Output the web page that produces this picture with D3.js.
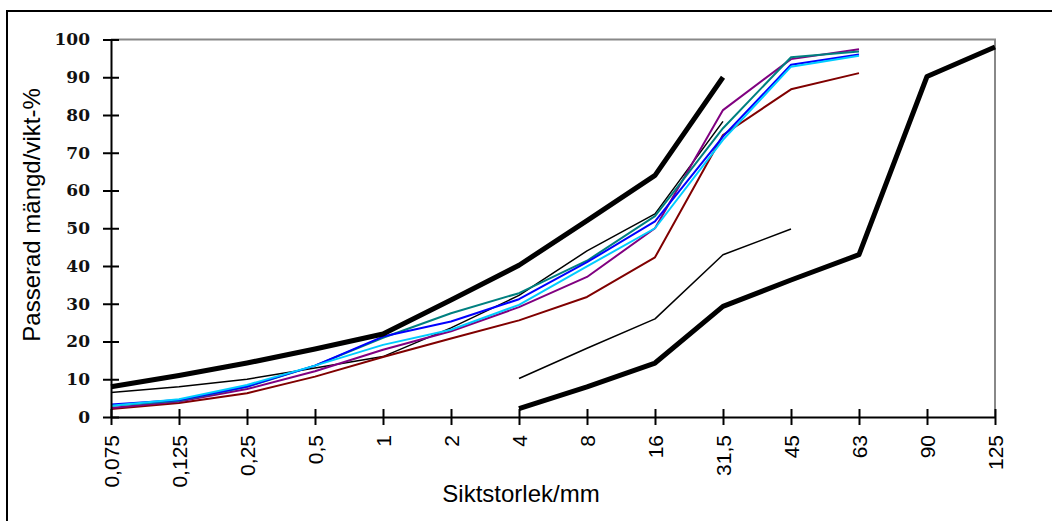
<!DOCTYPE html>
<html>
<head>
<meta charset="utf-8">
<script src="https://cdn.jsdelivr.net/npm/d3@7/dist/d3.min.js"></script>
<style>
  body { margin: 0; background: #fff; }
  svg { display: block; }
</style>
</head>
<body>
<div id="container"></div>
<script>
// sieve sizes (category axis, evenly spaced)
var sieves = ["0,075", "0,125", "0,25", "0,5", "1", "2", "4", "8", "16", "31,5", "45", "63", "90", "125"];
var yTicks = [0, 10, 20, 30, 40, 50, 60, 70, 80, 90, 100];

// grading limit curves (thick)
var upperLimit = [8, 11, 14.3, 18, 22, 31, 40.2, 52, 64, 90, null, null, null, null];
var lowerLimit = [null, null, null, null, null, null, 2.2, 8, 14.3, 29.3, 36.3, 43, 90.2, 98];
// thin black curves
var thinUpper = [6.5, 8, 10, 13, 16, 23.6, 32.2, 44, 53.8, 78.3, null, null, null, null];
var thinLower = [null, null, null, null, null, null, 10.2, 18.2, 26, 43, 49.8, null, null, null];
// sample curves
var redVals = [2.1, 3.7, 6.3, 10.7, 15.9, 20.8, 25.6, 31.8, 42.3, 74.7, 86.8, 91.1, null, null];
var purpleVals = [2.4, 4.1, 7.4, 12.1, 17.8, 22.7, 29.1, 37.1, 50, 81.3, 94.8, 97.4, null, null];
var tealVals = [3, 4.3, 8, 13.6, 21, 27.5, 32.8, 41.4, 53.2, 76.5, 95.3, 96.8, null, null];
var blueVals = [3.3, 4.5, 8.1, 13.6, 21.3, 25.3, 31.2, 41, 51.8, 74.3, 93.3, 96, null, null];
var cyanVals = [3, 4.7, 8.5, 13.6, 19.1, 23.1, 29.7, 39.9, 50, 73.4, 92.8, 95.7, null, null];

var series = [
    { values: thinUpper, color: "#000", width: 1.5 },
    { values: thinLower, color: "#000", width: 1.5 },
    { values: redVals, color: "#800000", width: 2 },
    { values: purpleVals, color: "#800080", width: 2 },
    { values: tealVals, color: "#008080", width: 2 },
    { values: blueVals, color: "#0000ff", width: 2 },
    { values: cyanVals, color: "#00ccff", width: 2 },
    { values: upperLimit, color: "#000", width: 5 },
    { values: lowerLimit, color: "#000", width: 5 }
];

var W = 1052, H = 521;
var plotLeft = 111, plotRight = 995, plotTop = 39.5, plotBottom = 417;

var svg = d3.select("#container").append("svg")
    .attr("width", W)
    .attr("height", H)

// outer chart border
svg.append("rect")
    .attr("x", 7).attr("y", 11)
    .attr("width", W + 20).attr("height", H + 20)
    .attr("fill", "none")
    .attr("stroke", "#000")
    .attr("stroke-width", 2)

var x = d3.scalePoint().domain(sieves).range([plotLeft, plotRight]);
var y = d3.scaleLinear().domain([0, 100]).range([plotBottom, plotTop]);

// plot area frame (grey top and right)
svg.append("path")
    .attr("d", "M" + plotLeft + "," + plotTop + "H" + plotRight + "V" + plotBottom)
    .attr("fill", "none")
    .attr("stroke", "#888")
    .attr("stroke-width", 2)

var line = d3.line()
    .defined(function(d) { return d != null })
    .x(function(d, i) { return x(sieves[i]) })
    .y(function(d) { return y(d) })

svg.selectAll("path.curve")
    .data(series)
    .enter().append("path")
    .attr("class", "curve")
    .attr("d", function(s) { return line(s.values) })
    .attr("fill", "none")
    .attr("stroke", function(s) { return s.color })
    .attr("stroke-width", function(s) { return s.width })
    .attr("stroke-linejoin", "round")

// y axis
var yAxis = svg.append("g")
    .attr("transform", "translate(" + plotLeft + ",0)")
    .call(d3.axisLeft(y).tickValues(yTicks).tickSizeInner(8).tickSizeOuter(0).tickPadding(13))
yAxis.select(".domain").attr("stroke-width", 2)
yAxis.selectAll(".tick line").attr("x1", 8).attr("x2", -8).attr("stroke-width", 2)
yAxis.selectAll(".tick text")
    .style("font-family", "'DejaVu Serif', serif")
    .style("font-size", "17px")
    .style("font-weight", "bold")
    .attr("fill", "#111")

// x axis
var xAxis = svg.append("g")
    .attr("transform", "translate(0," + plotBottom + ")")
    .call(d3.axisBottom(x).tickSizeInner(8).tickSizeOuter(0))
xAxis.select(".domain").attr("stroke-width", 2)
xAxis.selectAll(".tick line").attr("y1", -8).attr("y2", 8).attr("stroke-width", 2)
xAxis.selectAll(".tick text")
    .attr("y", 0)
    .attr("x", -18)
    .attr("dy", "0.35em")
    .attr("transform", "rotate(-90)")
    .style("text-anchor", "end")
    .style("font-family", "'Liberation Sans', Arial, sans-serif")
    .style("font-size", "21px")
    .attr("fill", "#000")

// axis titles
svg.append("text")
    .attr("x", 521)
    .attr("y", 502)
    .attr("text-anchor", "middle")
    .style("font-family", "'Liberation Sans', Arial, sans-serif")
    .style("font-size", "24px")
    .text("Siktstorlek/mm")

svg.append("text")
    .attr("transform", "translate(40,215) rotate(-90)")
    .attr("text-anchor", "middle")
    .style("font-family", "'Liberation Sans', Arial, sans-serif")
    .style("font-size", "24px")
    .text("Passerad mängd/vikt-%")
</script>
</body>
</html>
